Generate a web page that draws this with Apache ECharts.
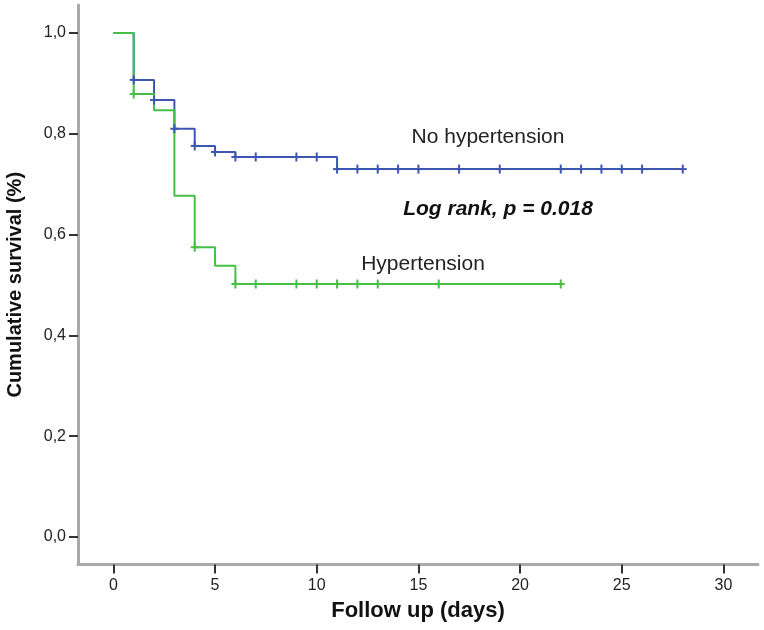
<!DOCTYPE html>
<html>
<head>
<meta charset="utf-8">
<script src="https://cdn.jsdelivr.net/npm/echarts@6/dist/echarts.min.js"></script>
<style>
html,body{margin:0;padding:0;background:#fff;}
#chart{width:764px;height:630px;}
</style>
</head>
<body>
<div id="chart"></div>
<script>
// Kaplan-Meier step data: [day, survival]
var noHypSteps = [[0,1.0],[1,0.907],[2,0.867],[3,0.810],[4,0.776],[5,0.764],[6,0.754],[11,0.730],[28,0.730]];
var hypSteps = [[0,1.0],[1,0.879],[2,0.847],[3,0.677],[4,0.575],[5,0.538],[6,0.502],[22,0.502]];
// Censored observations
var noHypCensored = [[1,0.907],[2,0.867],[3,0.810],[4,0.776],[5,0.764],[6,0.754],[7,0.754],[9,0.754],[10,0.754],
  [11,0.730],[12,0.730],[13,0.730],[14,0.730],[15,0.730],[17,0.730],[19,0.730],[22,0.730],[23,0.730],[24,0.730],[25,0.730],[26,0.730],[28,0.730]];
var hypCensored = [[1,0.879],[4,0.575],[6,0.502],[7,0.502],[9,0.502],[10,0.502],[11,0.502],[12,0.502],[13,0.502],[16,0.502],[22,0.502]];
var xTicks = [0,5,10,15,20,25,30];
var yTicks = [0,0.2,0.4,0.6,0.8,1.0];

var blue = '#3d56b2';
var green = '#45c045';
var font = '"Liberation Sans", Arial, sans-serif';

function censorItem(color){
  return function(params, api){
    var p = api.coord([api.value(0), api.value(1)]);
    return {type:'group', children:[
      {type:'line', shape:{x1:p[0]-4,y1:p[1],x2:p[0]+4,y2:p[1]}, style:{stroke:color,lineWidth:2}},
      {type:'line', shape:{x1:p[0],y1:p[1]-4.5,x2:p[0],y2:p[1]+4.5}, style:{stroke:color,lineWidth:2}}
    ]};
  };
}

var chart = echarts.init(document.getElementById('chart'));
chart.setOption({
  animation:false,
  backgroundColor:'#fff',
  grid:{left:78,right:6,top:5,bottom:65.5,containLabel:false,outerBoundsMode:'none'},
  xAxis:{
    type:'value', min:-1.74, max:31.7,
    axisLine:{show:true,onZero:false,lineStyle:{color:'#a9a9a9',width:3}},
    axisTick:{show:true,customValues:xTicks,length:9,lineStyle:{color:'#333',width:2}},
    axisLabel:{customValues:xTicks,margin:13,color:'#222',fontSize:16,fontFamily:font},
    splitLine:{show:false},
    name:'Follow up (days)', nameLocation:'middle', nameGap:35,
    nameTextStyle:{fontSize:22,fontWeight:'bold',color:'#111',fontFamily:font}
  },
  yAxis:{
    type:'value', min:-0.0546, max:1.0556,
    axisLine:{show:true,onZero:false,lineStyle:{color:'#a9a9a9',width:3}},
    axisTick:{show:true,customValues:yTicks,length:9,lineStyle:{color:'#333',width:2}},
    axisLabel:{customValues:yTicks,margin:12,color:'#222',fontSize:16,fontFamily:font,
      formatter:function(v){return v.toFixed(1).replace('.',',');}},
    splitLine:{show:false},
    name:'Cumulative survival (%)', nameLocation:'middle', nameGap:53,
    nameTextStyle:{fontSize:20,fontWeight:'bold',color:'#111',fontFamily:font}
  },
  series:[
    {type:'line', step:'end', data:noHypSteps, symbol:'none', lineStyle:{color:blue,width:2}, z:2},
    {type:'line', step:'end', data:hypSteps, symbol:'none', lineStyle:{color:green,width:2}, z:3},
    {type:'custom', data:noHypCensored, renderItem:censorItem(blue), z:4},
    {type:'custom', data:hypCensored, renderItem:censorItem(green), z:5}
  ],
  graphic:[
    {type:'text', style:{text:'No hypertension', x:488, y:137, align:'center', verticalAlign:'middle', font:'21px '+font, fill:'#222'}},
    {type:'text', style:{text:'Log rank, p = 0.018', x:498, y:209, align:'center', verticalAlign:'middle', font:'italic bold 21px '+font, fill:'#111'}},
    {type:'text', style:{text:'Hypertension', x:423, y:264, align:'center', verticalAlign:'middle', font:'21px '+font, fill:'#222'}}
  ]
});
</script>
</body>
</html>
